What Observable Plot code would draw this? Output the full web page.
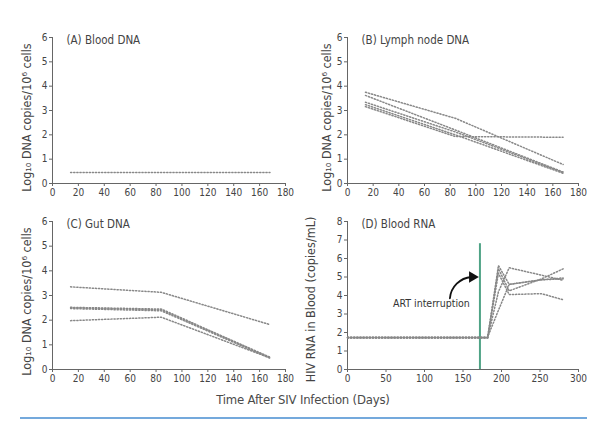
<!DOCTYPE html>
<html>
<head>
<meta charset="utf-8">
<script src="https://cdn.jsdelivr.net/npm/d3@7"></script>
<script src="https://cdn.jsdelivr.net/npm/@observablehq/plot@0.6"></script>
<style>
  html, body { margin: 0; padding: 0; background: #fff; }
  #wrap { position: relative; width: 600px; height: 423px; overflow: hidden; background: #fff; }
  .panel { position: absolute; }
  #xtitle { position: absolute; left: 0; width: 606px; top: 392px; text-align: center;
            font-family: "DejaVu Sans Condensed", Lato, sans-serif;
            font-size: 13px; letter-spacing: -0.2px; color: #4a4a4a; }
  #rule { position: absolute; left: 20px; top: 417px; width: 567px; height: 2px; background: #74a9dc; }
</style>
</head>
<body>
<div id="wrap">
  <div id="pA" class="panel" style="left:0;top:0"></div>
  <div id="pB" class="panel" style="left:300px;top:0"></div>
  <div id="pC" class="panel" style="left:0;top:200px"></div>
  <div id="pD" class="panel" style="left:300px;top:200px"></div>
  <div id="xtitle"></div>
  <div id="rule"></div>
</div>
<script>
// ---------- data ----------
const panelTitles = ["(A) Blood DNA", "(B) Lymph node DNA", "(C) Gut DNA", "(D) Blood RNA"];
const dnaYLabel = "Log\u2081\u2080 DNA copies/10\u2076 cells";
const rnaYLabel = "HIV RNA in Blood (copies/mL)";
const xAxisTitle = "Time After SIV Infection (Days)";

const dnaTicksX = [0, 20, 40, 60, 80, 100, 120, 140, 160, 180];
const dnaTicksY = [0, 1, 2, 3, 4, 5, 6];
const rnaTicksX = [0, 50, 100, 150, 200, 250, 300];
const rnaTicksY = [0, 1, 2, 3, 4, 5, 6, 7, 8];

const dnaDays = [14, 84, 168];
const bloodDNA = [
  [0.45, 0.45, 0.45]
];
const lymphDNA = [
  [3.75, 2.68, 0.78],
  [3.62, 2.20, 0.47],
  [3.34, 2.12, 0.45],
  [3.24, 2.00, 0.42],
  [3.16, 1.93, 1.90]
];
const gutDNA = [
  [3.35, 3.13, 1.82],
  [2.52, 2.45, 0.50],
  [2.50, 2.42, 0.48],
  [2.47, 2.38, 0.46],
  [1.98, 2.12, 0.47]
];

const rnaDays = [0, 182, 196, 210, 252, 280];
const bloodRNA = [
  [1.70, 1.70, 5.62, 4.60, 4.85, 4.90],
  [1.71, 1.71, 4.20, 5.50, 5.10, 4.82],
  [1.72, 1.72, 5.20, 4.05, 4.10, 3.77],
  [1.74, 1.74, 5.45, 4.25, 4.90, 5.44],
  [1.75, 1.75, 3.20, 4.60, 4.85, 4.95]
];
const artInterruptionDay = [172];
const artRuleTop = 6.8;
const artLabel = [{text: "ART interruption", day: 109, value: 3.55}];
const artArrow = [{x1: 133, y1: 3.85, x2: 166, y2: 5.0}];

// ---------- helpers ----------
const FONT = '"DejaVu Sans Condensed", Lato, sans-serif';
const TXT = "#444";
const AXIS = "#666";
const SERIES = "#888";

function toRows(days, series) {
  const rows = [];
  series.forEach((vals, i) => vals.forEach((v, j) => rows.push({id: i, day: days[j], value: v})));
  return rows;
}

function panel({rows, xDomain, xTicks, yDomain, yTicks, title, yLabel, m, labelDx, labelDy, extra = []}) {
  return Plot.plot({
    width: 300,
    height: 200,
    marginLeft: m[0], marginRight: m[1], marginTop: m[2], marginBottom: m[3],
    style: {fontFamily: FONT, color: TXT, background: "transparent", overflow: "visible"},
    x: {domain: xDomain, ticks: xTicks, label: null},
    y: {domain: yDomain, ticks: yTicks, label: null},
    marks: [
      Plot.axisX({ticks: xTicks, tickFormat: d => String(d), tickSize: 3, tickPadding: 2,
                  fontSize: 10, stroke: AXIS, fill: TXT, label: null}),
      Plot.axisY({ticks: yTicks, tickFormat: d => String(d), tickSize: 3, tickPadding: 2,
                  fontSize: 10, stroke: AXIS, fill: TXT, label: null}),
      Plot.ruleX([xDomain[0]], {stroke: AXIS, strokeWidth: 1}),
      Plot.ruleY([yDomain[0]], {stroke: AXIS, strokeWidth: 1}),
      ...extra,
      Plot.line(rows, {x: "day", y: "value", z: "id", stroke: SERIES, strokeWidth: 1.5,
                       strokeDasharray: "1.2,1.9", curve: "linear"}),
      Plot.text([title], {frameAnchor: "top-left", textAnchor: "start", lineAnchor: "top",
                          dx: 14, dy: -2, fontSize: 11.5, fill: TXT}),
      Plot.text([yLabel], {frameAnchor: "left", textAnchor: "middle", lineAnchor: "middle",
                           rotate: -90, dx: labelDx, dy: labelDy, fontSize: 12.5, fill: TXT})
    ]
  });
}

// ---------- panels ----------
document.getElementById("pA").append(panel({
  rows: toRows(dnaDays, bloodDNA), xDomain: [0, 180], xTicks: dnaTicksX,
  yDomain: [0, 6], yTicks: dnaTicksY, title: panelTitles[0], yLabel: dnaYLabel,
  m: [52, 15, 37, 17], labelDx: -26, labelDy: 7
}));

document.getElementById("pB").append(panel({
  rows: toRows(dnaDays, lymphDNA), xDomain: [0, 180], xTicks: dnaTicksX,
  yDomain: [0, 6], yTicks: dnaTicksY, title: panelTitles[1], yLabel: dnaYLabel,
  m: [47, 22, 37, 17], labelDx: -21, labelDy: 7
}));

document.getElementById("pC").append(panel({
  rows: toRows(dnaDays, gutDNA), xDomain: [0, 180], xTicks: dnaTicksX,
  yDomain: [0, 6], yTicks: dnaTicksY, title: panelTitles[2], yLabel: dnaYLabel,
  m: [52, 15, 21, 31], labelDx: -26, labelDy: 6
}));

document.getElementById("pD").append(panel({
  rows: toRows(rnaDays, bloodRNA), xDomain: [0, 300], xTicks: rnaTicksX,
  yDomain: [0, 8], yTicks: rnaTicksY, title: panelTitles[3], yLabel: rnaYLabel,
  m: [47, 22, 21, 31], labelDx: -37, labelDy: 4,
  extra: [
    Plot.ruleX(artInterruptionDay, {y1: 0, y2: artRuleTop, stroke: "#4fa386", strokeWidth: 2}),
    Plot.text(artLabel, {x: "day", y: "value", text: "text", fontSize: 10.5, fill: "#333"}),
    Plot.arrow(artArrow, {x1: "x1", y1: "y1", x2: "x2", y2: "y2", bend: 45, stroke: "#111",
                          strokeWidth: 1.8, headLength: 0, insetEnd: 4}),
    Plot.dot(artArrow, {x: "x2", y: "y2", symbol: "triangle", rotate: 90, r: 4.2, fill: "#111",
                        stroke: "none", dx: -3})
  ]
}));

document.getElementById("xtitle").textContent = xAxisTitle;
</script>
</body>
</html>
